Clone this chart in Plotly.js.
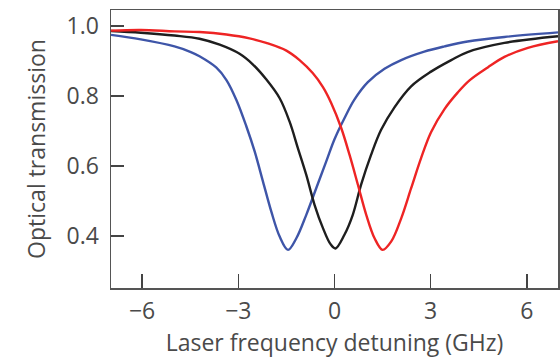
<!DOCTYPE html>
<html>
<head>
<meta charset="utf-8">
<script src="https://cdn.plot.ly/plotly-3.0.1.min.js"></script>
<style>html,body{margin:0;padding:0;background:#fff;}#chart{width:560px;height:361px;}</style>
</head>
<body>
<div id="chart"></div>
<script>
// Detuning (GHz) and optical transmission
const blueX = [-6.97, -6.04, -4.99, -4.48, -4.21, -3.69, -3.37, -3.06, -2.75, -2.49, -2.23, -1.97, -1.71, -1.45, -1.19, -0.88, -0.57, -0.26, 0.00, 0.31, 0.62, 1.04, 1.56, 2.08, 2.80, 3.43, 4.15, 5.30, 6.97];
const blueY = [0.975, 0.962, 0.942, 0.926, 0.914, 0.882, 0.846, 0.789, 0.714, 0.642, 0.556, 0.470, 0.399, 0.361, 0.394, 0.461, 0.537, 0.613, 0.677, 0.737, 0.790, 0.840, 0.878, 0.903, 0.927, 0.942, 0.956, 0.969, 0.982];

const blackX = [-6.97, -6.04, -4.99, -4.21, -3.58, -2.96, -2.55, -2.13, -1.71, -1.40, -1.14, -0.88, -0.62, -0.36, -0.13, 0.03, 0.31, 0.57, 0.83, 1.14, 1.45, 1.87, 2.39, 3.01, 3.64, 4.15, 5.30, 6.97];
const blackY = [0.986, 0.981, 0.973, 0.964, 0.947, 0.921, 0.891, 0.848, 0.794, 0.727, 0.651, 0.575, 0.489, 0.423, 0.378, 0.365, 0.404, 0.461, 0.547, 0.632, 0.703, 0.768, 0.828, 0.870, 0.903, 0.926, 0.952, 0.971];

const redX = [-6.97, -6.04, -4.99, -4.21, -3.37, -2.65, -2.13, -1.50, -1.09, -0.68, -0.36, -0.10, 0.21, 0.47, 0.73, 0.99, 1.25, 1.50, 1.77, 2.08, 2.39, 2.70, 3.01, 3.43, 3.84, 4.21, 4.78, 5.30, 6.03, 6.97];
const redY = [0.987, 0.989, 0.985, 0.983, 0.976, 0.965, 0.952, 0.930, 0.903, 0.866, 0.826, 0.780, 0.709, 0.632, 0.547, 0.461, 0.394, 0.361, 0.385, 0.451, 0.537, 0.623, 0.697, 0.763, 0.810, 0.845, 0.882, 0.912, 0.938, 0.957];

const xTicks = [-6, -3, 0, 3, 6];
const yTicks = [0.4, 0.6, 0.8, 1.0];

const font = 'Open Sans, Lato, sans-serif';
const textColor = '#4a4a4a';

function series(x, y, color) {
  return {x: x, y: y, type: 'scatter', mode: 'lines',
    line: {color: color, width: 2.4, shape: 'spline', smoothing: 1.0},
    hoverinfo: 'skip', showlegend: false};
}

const data = [
  series(blueX, blueY, '#3e55a8'),
  series(blackX, blackY, '#1e1e1e'),
  series(redX, redY, '#ee2424')
];

const layout = {
  width: 560, height: 361,
  margin: {l: 111, r: 2, t: 10, b: 73},
  paper_bgcolor: '#fff', plot_bgcolor: '#fff',
  font: {family: font, color: textColor, size: 23},
  xaxis: {
    range: [-6.97, 6.97], tickvals: xTicks, ticks: 'inside', ticklen: 14, tickwidth: 1.5, tickcolor: '#444',
    showline: true, linecolor: '#555', linewidth: 1.5, mirror: true, showgrid: false, zeroline: false,
    ticklabelstandoff: 2,
    title: {text: 'Laser frequency detuning (GHz)', font: {size: 23, color: textColor}, standoff: 8},
    tickfont: {size: 23, color: textColor}
  },
  yaxis: {
    range: [0.252, 1.046], tickvals: yTicks, tickformat: '.1f', ticks: 'inside', ticklen: 13, tickwidth: 1.5, tickcolor: '#444',
    showline: true, linecolor: '#555', linewidth: 1.5, mirror: true, showgrid: false, zeroline: false,
    ticklabelstandoff: 6,
    title: {text: 'Optical transmission', font: {size: 23, color: textColor}, standoff: 14},
    tickfont: {size: 23, color: textColor}
  }
};

Plotly.newPlot('chart', data, layout, {staticPlot: true, displayModeBar: false});
</script>
</body>
</html>
